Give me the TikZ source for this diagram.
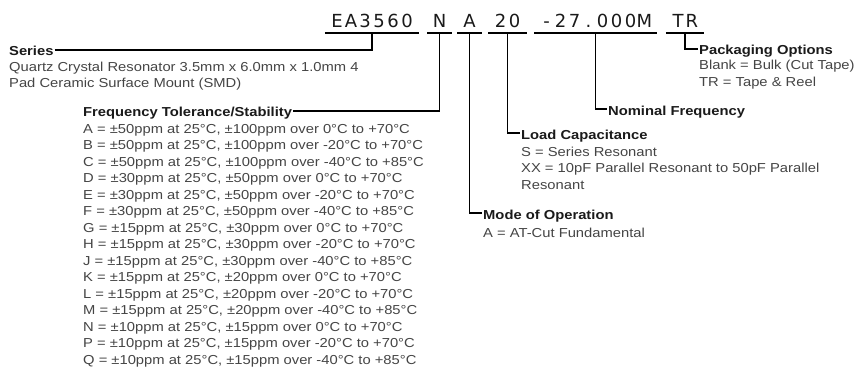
\documentclass[tikz,border=0pt]{standalone}
\usepackage{fontspec}
\setmainfont{Liberation Sans}[FakeStretch=1.135]
\newfontfamily\codefont{DejaVu Sans}
\definecolor{bodygray}{HTML}{454545}
\definecolor{hdrblack}{HTML}{1A1A1A}
\def\spc#1{\spcaux#1\relax}
\def\spcaux#1{\ifx\relax#1\else\makebox[14pt]{#1}\expandafter\spcaux\fi}
\tikzset{
  code/.style={font=\codefont\fontsize{18}{18}\selectfont, text=hdrblack, inner xsep=5pt, inner ysep=0pt, text height=13pt, text depth=5pt, anchor=base},
  hdr/.style={font=\fontsize{13}{15}\selectfont\bfseries, text=hdrblack, inner xsep=1pt, inner ysep=0pt, text height=12pt, text depth=0pt, anchor=base west},
  body/.style={font=\fontsize{13}{15}\selectfont, text=bodygray, inner sep=0pt, anchor=base west},
  conn/.style={line width=1.8pt, line cap=butt, line join=miter},
}
\begin{document}
\begin{tikzpicture}[x=1pt,y=-1pt]
\useasboundingbox[fill=white] (0,0) rectangle (857,369);
% part number groups
\node[code] (ea) at (372,28) {\spc{EA3560}};
\node[code] (n) at (439.5,28) {\spc{N}};
\node[code] (a) at (469.5,28) {\spc{A}};
\node[code] (c20) at (507.5,28) {\spc{20}};
\node[code] (fq) at (595.5,28) {\spc{-27.000M}};
\node[code] (tr) at (685,28) {\spc{TR}};
\foreach \g in {ea,n,a,c20,fq,tr}
  \draw[conn] (\g.south west) -- (\g.south east);
% headers
\node[hdr] (series) at (8,56) {Series};
\node[hdr] (freq) at (82,117) {Frequency Tolerance/Stability};
\node[hdr] (mode) at (482,219) {Mode of Operation};
\node[hdr] (load) at (520,139) {Load Capacitance};
\node[hdr] (nom) at (607,115) {Nominal Frequency};
\node[hdr] (pack) at (698,55) {Packaging Options};
% connectors
\draw[conn] (series.east) -| (ea.south);
\draw[conn] (freq.east) -| (n.south);
\draw[conn] (a.south) |- (mode.west);
\draw[conn] (c20.south) |- (load.west);
\draw[conn] (fq.south) |- (nom.west);
\draw[conn] (tr.south) |- (pack.west);
% descriptions
\node[body] (s1) at (9,71.5) {Quartz Crystal Resonator 3.5mm x 6.0mm x 1.0mm 4};
\node[body] (s2) at (9,87.5) {Pad Ceramic Surface Mount (SMD)};
\foreach \t [count=\i] in {
  {A = ±50ppm at 25°C, ±100ppm over 0°C to +70°C},
  {B = ±50ppm at 25°C, ±100ppm over -20°C to +70°C},
  {C = ±50ppm at 25°C, ±100ppm over -40°C to +85°C},
  {D = ±30ppm at 25°C, ±50ppm over 0°C to +70°C},
  {E = ±30ppm at 25°C, ±50ppm over -20°C to +70°C},
  {F = ±30ppm at 25°C, ±50ppm over -40°C to +85°C},
  {G = ±15ppm at 25°C, ±30ppm over 0°C to +70°C},
  {H = ±15ppm at 25°C, ±30ppm over -20°C to +70°C},
  {J = ±15ppm at 25°C, ±30ppm over -40°C to +85°C},
  {K = ±15ppm at 25°C, ±20ppm over 0°C to +70°C},
  {L = ±15ppm at 25°C, ±20ppm over -20°C to +70°C},
  {M = ±15ppm at 25°C, ±20ppm over -40°C to +85°C},
  {N = ±10ppm at 25°C, ±15ppm over 0°C to +70°C},
  {P = ±10ppm at 25°C, ±15ppm over -20°C to +70°C},
  {Q = ±10ppm at 25°C, ±15ppm over -40°C to +85°C}}
  \node[body] (f\i) at (83,{133+16.5*(\i-1)}) {\t};
\node[body] (m1) at (483,237) {A = AT-Cut Fundamental};
\node[body] (l1) at (521,156) {S = Series Resonant};
\node[body] (l2) at (521,172.5) {XX = 10pF Parallel Resonant to 50pF Parallel};
\node[body] (l3) at (521,189) {Resonant};
\node[body] (p1) at (699,70) {Blank = Bulk (Cut Tape)};
\node[body] (p2) at (699,86) {TR = Tape \& Reel};
\end{tikzpicture}
\end{document}
